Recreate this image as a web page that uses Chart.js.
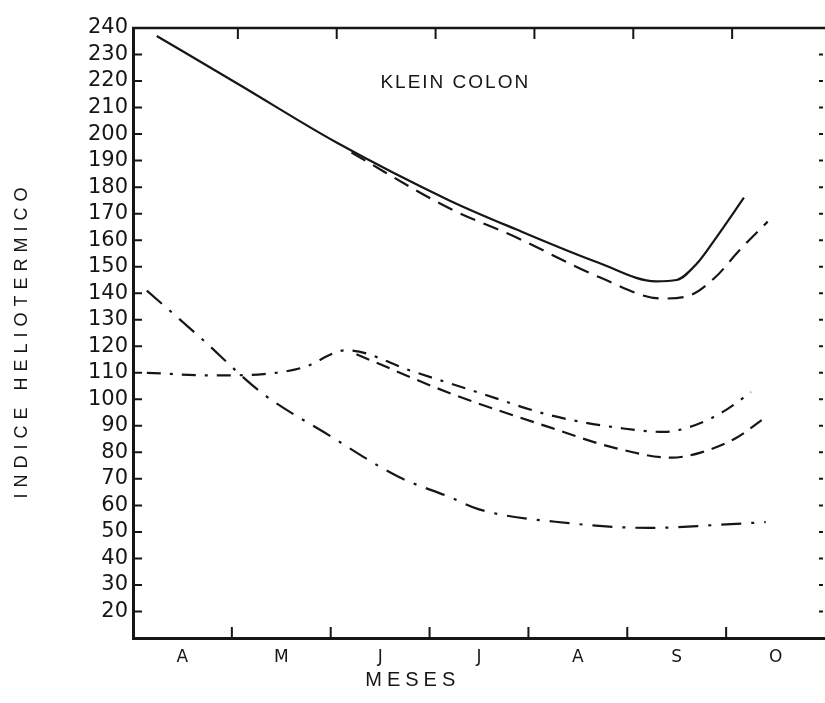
<!DOCTYPE html>
<html>
<head>
<meta charset="utf-8">
<script src="https://cdn.jsdelivr.net/npm/chart.js@4"></script>
<style>
  html, body { margin: 0; padding: 0; background: #fff; overflow: hidden; }
  .chart-container { width: 825px; height: 703px; position: relative; }
</style>
</head>
<body>
<div class="chart-container">
  <canvas id="chart"></canvas>
</div>
<script>
// month labels on the x axis, tick labels on the y axis
const months = ["A", "M", "J", "J", "A", "S", "O"];
const yLabels = [240, 230, 220, 210, 200, 190, 180, 170, 160, 150, 140, 130, 120, 110, 100, 90, 80, 70, 60, 50, 40, 30, 20];

// x is measured in months from the start of April
const solidX = [0.24, 1.08, 2.05, 3.2, 3.88, 4.71, 5.29, 5.5, 5.7, 5.9, 6.18];
const solidY = [237, 218.5, 197, 175, 164, 151.5, 144.5, 145, 151, 161, 176];

const dashUpX = [2.21, 3.2, 3.88, 4.72, 5.35, 5.62, 5.89, 6.13, 6.42];
const dashUpY = [193, 172, 161, 146, 138, 139, 146, 156, 167];

const dotUpX = [0.14, 0.81, 1.32, 1.72, 2.16, 2.83, 3.5, 4.22, 4.96, 5.37, 5.69, 6.0, 6.25];
const dotUpY = [110, 109, 109.5, 112, 118.5, 110.5, 102.5, 94, 89, 87.7, 90.3, 96, 102.7];

const dashLowX = [2.26, 3.2, 4.21, 4.88, 5.45, 5.75, 6.1, 6.39];
const dashLowY = [117, 102.4, 89.5, 81.6, 78, 80, 85.4, 93];

const dotLowX = [0.14, 0.69, 1.3, 1.98, 2.69, 3.2, 3.5, 4.41, 5.22, 5.89, 6.4];
const dotLowY = [141, 123, 102.5, 86.5, 70.7, 63.2, 58.5, 53.3, 51.5, 52.6, 53.7];

const ink = "#161616";

const toPoints = (xs, ys) => xs.map((x, i) => ({ x: x, y: ys[i] }));

const line = (xs, ys, dash, width) => ({
  data: toPoints(xs, ys),
  borderColor: ink,
  borderWidth: width,
  borderDash: dash,
  pointRadius: 0,
  fill: false,
  cubicInterpolationMode: "monotone",
});

// frame: top border, inward ticks on all sides, plus the free text
const framePlugin = {
  id: "frame",
  afterDraw(chart) {
    const { ctx, chartArea: a, scales } = chart;
    const x = scales.x, y = scales.y;
    ctx.save();
    ctx.strokeStyle = ink;
    ctx.lineWidth = 2.5;
    ctx.beginPath();
    ctx.moveTo(a.left - 1, a.top);
    ctx.lineTo(a.right, a.top);
    ctx.stroke();

    ctx.lineWidth = 2;
    ctx.beginPath();
    yLabels.forEach((v) => {
      if (v === 240) return;
      const py = y.getPixelForValue(v);
      ctx.moveTo(a.left, py);
      ctx.lineTo(a.left + 9, py);
      ctx.moveTo(a.right - 6, py);
      ctx.lineTo(a.right - 2, py);
    });
    for (let m = 1; m < months.length; m++) {
      const px = x.getPixelForValue(m);
      ctx.moveTo(px, a.bottom);
      ctx.lineTo(px, a.bottom - 11);
      ctx.moveTo(px + 6, a.top);
      ctx.lineTo(px + 6, a.top + 11);
    }
    ctx.stroke();

    ctx.fillStyle = ink;
    ctx.textAlign = "center";
    ctx.textBaseline = "middle";

    ctx.font = "19px 'Liberation Sans', sans-serif";
    ctx.letterSpacing = "2px";
    ctx.fillText("KLEIN COLON", x.getPixelForValue(3.26), y.getPixelForValue(219.3));

    ctx.font = "20px 'Liberation Sans', sans-serif";
    ctx.letterSpacing = "5px";
    ctx.fillText("MESES", x.getPixelForValue(2.83), a.bottom + 42);

    ctx.translate(22, (a.top + a.bottom) / 2 + 7);
    ctx.rotate(-Math.PI / 2);
    ctx.font = "18px 'Liberation Sans', sans-serif";
    ctx.letterSpacing = "6px";
    ctx.fillText("INDICE HELIOTERMICO", 0, 0);
    ctx.restore();
  },
};

new Chart(document.getElementById("chart").getContext("2d"), {
  type: "line",
  data: {
    datasets: [
      line(solidX, solidY, [], 2.2),
      line(dashUpX, dashUpY, [16, 9], 2.2),
      line(dotUpX, dotUpY, [14, 9, 3, 9], 2.2),
      line(dashLowX, dashLowY, [14, 8], 2.2),
      line(dotLowX, dotLowY, [20, 10, 3, 10], 2.2),
    ],
  },
  options: {
    responsive: true,
    maintainAspectRatio: false,
    animation: false,
    layout: { autoPadding: false, padding: { top: 28, right: 0, left: 0, bottom: 0 } },
    plugins: {
      legend: { display: false },
      tooltip: { enabled: false },
    },
    scales: {
      x: {
        type: "linear",
        min: 0,
        max: 7,
        afterFit: (scale) => {
          scale.height = 65;
          scale.paddingRight = 0;
          scale.paddingLeft = 0;
        },
        grid: { display: false, drawTicks: false },
        border: { display: true, color: ink, width: 3 },
        ticks: {
          stepSize: 0.5,
          autoSkip: false,
          maxRotation: 0,
          padding: 9,
          color: ink,
          font: { family: "'DejaVu Sans', sans-serif", size: 17 },
          callback: (v) => (v % 1 === 0.5 ? months[Math.floor(v)] : ""),
        },
      },
      y: {
        type: "linear",
        min: 10,
        max: 240,
        afterFit: (scale) => { scale.width = 133; },
        grid: { display: false, drawTicks: false },
        border: { display: true, color: ink, width: 3 },
        ticks: {
          stepSize: 10,
          autoSkip: false,
          padding: 5,
          color: ink,
          font: { family: "'DejaVu Sans', sans-serif", size: 21 },
          callback: (v) => (yLabels.includes(v) ? String(v) : ""),
        },
      },
    },
  },
  plugins: [framePlugin],
});
</script>
</body>
</html>
